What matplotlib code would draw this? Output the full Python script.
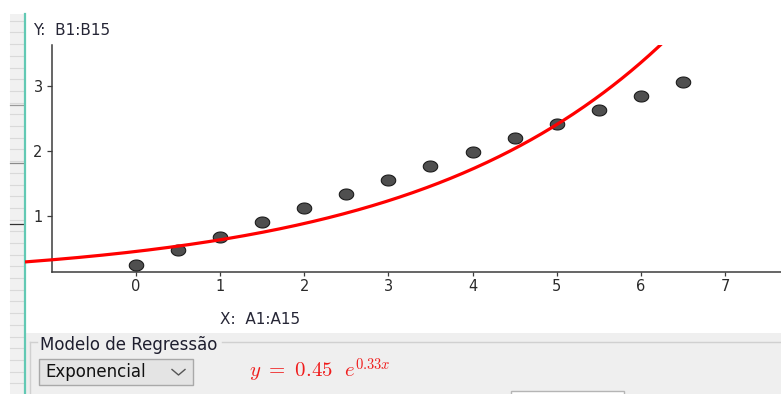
import numpy as np
import matplotlib
matplotlib.use('Agg')
import matplotlib.pyplot as plt
from matplotlib.path import Path
from matplotlib.patches import Rectangle

# ---------------- data ----------------
x_vals = [0, 0.5, 1, 1.5, 2, 2.5, 3, 3.5, 4, 4.5, 5, 5.5, 6, 6.5]
y_vals = [0.25, 0.47, 0.68, 0.90, 1.12, 1.33, 1.55, 1.76, 1.98, 2.19, 2.41, 2.62, 2.84, 3.05]
x_ticks = [0, 1, 2, 3, 4, 5, 6, 7]
y_ticks = [1, 2, 3]
reg_a = 0.452
reg_b = 0.334
x_label = "X:  A1:A15"
y_label = "Y:  B1:B15"
panel_title = "Modelo de Regressão"
model_name = "Exponencial"

# view window (data units)
x_min, x_max = -1.319, 7.666
y_min, y_max = 0.141, 3.624
axis_x_pos = -1

# ---------------- figure ----------------
W, H = 781, 394
plt.rcParams['font.family'] = ['DejaVu Sans']
fig = plt.figure(figsize=(W / 100, H / 100), dpi=100)

# background UI layer in pixel coordinates
bg = fig.add_axes([0, 0, 1, 1], zorder=0)
bg.set_xlim(0, W)
bg.set_ylim(H, 0)
bg.axis('off')

# left spreadsheet strip
bg.add_patch(Rectangle((10, 14), 14, H - 14, facecolor='#f1f1f1', edgecolor='none'))
for yy in np.arange(20.7, H, 11.7):
    bg.plot([10, 24], [yy, yy], color='#d9d9d9', lw=0.8)
for yy, c in [(105, '#9a9a9a'), (163, '#8a8a8a'), (224.3, '#333333')]:
    bg.plot([10, 24], [yy, yy], color=c, lw=0.9)
bg.plot([24.5, 24.5], [14, H], color='#62c9b4', lw=1.6)

# bottom grey panel
bg.add_patch(Rectangle((25.5, 333), W - 25.5, H - 333, facecolor='#efefef', edgecolor='none'))
# fieldset border
fs_col = '#d0d0d0'
bg.plot([30, 37], [341.5, 341.5], color=fs_col, lw=1)
bg.plot([222, W], [341.5, 341.5], color=fs_col, lw=1)
bg.plot([30, 30], [341.5, H], color=fs_col, lw=1)
bg.text(40, 344.5, panel_title, fontsize=12, color='#1e1e2e', va='center', ha='left')

# dropdown
bg.add_patch(Rectangle((38.5, 358.5), 154.5, 26.5, facecolor='#e4e4e4', edgecolor='#a9a9a9', lw=1))
bg.text(45, 372, model_name, fontsize=12, color='#111111', va='center', ha='left')
bg.plot([172, 178.5, 185], [369.5, 375, 369.5], color='#555555', lw=1)

# equation
eq = r'$y\ =\ %.2f\ \ e^{%.2fx}$' % (reg_a, reg_b)
bg.text(249, 371, eq, fontsize=15, color='#f01c1c', va='center', ha='left',
        math_fontfamily='cm')

# white box at bottom
bg.add_patch(Rectangle((511, 390.5), 113, 10, facecolor='white', edgecolor='#b5b5b5', lw=1))

# axis captions
cap_col = '#262636'
bg.text(33, 30, y_label, fontsize=11, color=cap_col, va='center', ha='left')
bg.text(220, 319, x_label, fontsize=11, color=cap_col, va='center', ha='left')

# ---------------- graph ----------------
ax_left = 25 / W
ax_bottom = 1 - 271.7 / H
ax_w = (W - 25) / W
ax_h = (271.7 - 45) / H
ax = fig.add_axes([ax_left, ax_bottom, ax_w, ax_h], zorder=1)
ax.patch.set_alpha(0)
ax.set_xlim(x_min, x_max)
ax.set_ylim(y_min, y_max)

for s in ['top', 'right']:
    ax.spines[s].set_visible(False)
axis_col = '#3c3c3c'
ax.spines['left'].set_position(('data', axis_x_pos))
ax.spines['left'].set_color(axis_col)
ax.spines['left'].set_linewidth(1.1)
ax.spines['bottom'].set_color(axis_col)
ax.spines['bottom'].set_linewidth(1.1)
ax.spines['bottom'].set_bounds(axis_x_pos, x_max)

ax.set_xticks(x_ticks)
ax.set_yticks(y_ticks)
ax.set_xticklabels([str(t) for t in x_ticks])
ax.set_yticklabels([str(t) for t in y_ticks])
ax.tick_params(axis='x', direction='out', length=3, width=0.9, color=axis_col,
               labelsize=10.5, labelcolor='#2a2a2a', pad=2.5)
ax.tick_params(axis='y', direction='out', length=3.6, width=0.9, color=axis_col,
               labelsize=10.5, labelcolor='#2a2a2a', pad=3)

# elliptical point marker (screen is slightly stretched horizontally)
theta = np.linspace(0, 2 * np.pi, 60)
ell = Path(np.column_stack([np.cos(theta), 0.76 * np.sin(theta)]), closed=True)
ax.plot(x_vals, y_vals, linestyle='none', marker=ell, markersize=10.4,
        markerfacecolor='#4f4f4f', markeredgecolor='#1c1c1c', markeredgewidth=0.8,
        zorder=3)

xs = np.linspace(x_min, x_max, 500)
ax.plot(xs, reg_a * np.exp(reg_b * xs), color='#ff0000', lw=2.3, zorder=4,
        solid_capstyle='butt')

fig.savefig('out.png', dpi=100)
